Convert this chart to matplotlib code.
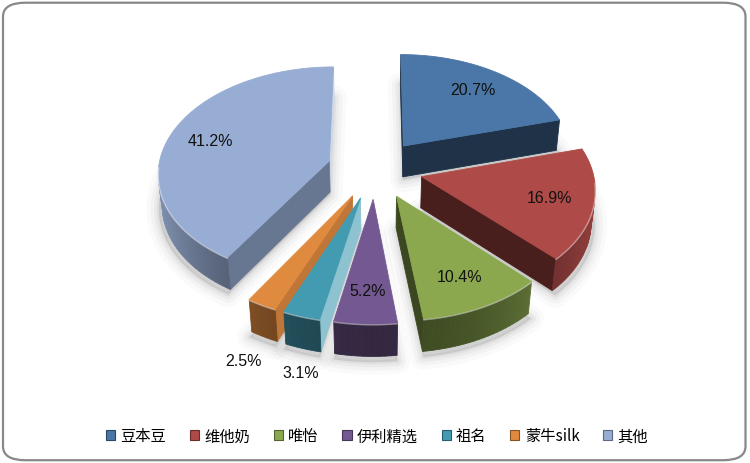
import numpy as np
import matplotlib
matplotlib.use('Agg')
import matplotlib.pyplot as plt
from matplotlib.patches import Polygon, FancyBboxPatch, Patch
from matplotlib.colors import to_rgb

# ---- data ----
brands = ['豆本豆', '维他奶', '唯怡', '伊利精选', '祖名', '蒙牛silk', '其他']
shares = [20.7, 16.9, 10.4, 5.2, 3.1, 2.5, 41.2]
colors = ['#4A76A8', '#AE4A47', '#8BA84F', '#735891', '#439BB2', '#E08A40', '#98ADD3']
outside = [False, False, False, False, True, True, False]

plt.rcParams['font.family'] = ['Noto Sans CJK SC', 'DejaVu Sans']

fig = plt.figure(figsize=(7.5, 4.64), dpi=100)
ax = fig.add_axes([0, 0, 1, 1])
ax.set_xlim(0, 750)
ax.set_ylim(464, 0)
ax.axis('off')

# border
fig.patches.append(FancyBboxPatch((0.004, 0.006), 0.99, 0.986,
                                  boxstyle="round,pad=0,rounding_size=0.03",
                                  transform=fig.transFigure, fc='white',
                                  ec='#888888', lw=1.6, zorder=-10))

# ---- 3D projection parameters ----
CX, CY, S = 375, 170, 171
D = 7.7
phi = np.radians(38)
H = 0.235
EXP = 0.28
cam = np.array([0.0, -D * np.cos(phi), D * np.sin(phi)])


def proj(X, Y, Z):
    X = np.asarray(X, float); Y = np.asarray(Y, float); Z = np.asarray(Z, float)
    w = D + Y * np.cos(phi) - Z * np.sin(phi)
    v = Y * np.sin(phi) + Z * np.cos(phi)
    return CX + S * X * D / w, CY - S * v * D / w


def depth(X, Y, Z):
    return D + Y * np.cos(phi) - Z * np.sin(phi)


def shade(c, f):
    c = np.array(to_rgb(c))
    if f <= 1:
        return tuple(c * f)
    m = min((f - 1) * 10, 0.55)
    return tuple(c + (1 - c) * m)


def visible(n, p):
    return np.dot(n, cam - p) > 0


total = sum(shares)
fracs = np.cumsum([0] + shares) / total
wedges = []
for i, val in enumerate(shares):
    t1 = 2 * np.pi * fracs[i]
    t2 = 2 * np.pi * fracs[i + 1]
    tm = 0.5 * (t1 + t2)
    ox, oy = EXP * np.sin(tm), EXP * np.cos(tm)
    n = max(4, int(np.degrees(t2 - t1) / 1.5))
    ts = np.linspace(t1, t2, n)
    key = depth(ox + 0.5 * np.sin(tm), oy + 0.5 * np.cos(tm), 0)
    wedges.append(dict(i=i, t1=t1, t2=t2, tm=tm, ox=ox, oy=oy, ts=ts, key=key))

# ---- soft shadow ----
for wd in wedges:
    ts = wd['ts']
    X = np.concatenate([[wd['ox']], wd['ox'] + 1.02 * np.sin(ts)])
    Y = np.concatenate([[wd['oy']], wd['oy'] + 1.02 * np.cos(ts)])
    px, py = proj(X, Y, np.full_like(X, -H))
    for lw, a in [(18, 0.035), (12, 0.05), (7, 0.07), (3, 0.09)]:
        ax.add_patch(Polygon(np.c_[px, py + 3], closed=True, fc=(0.5, 0.5, 0.5, a),
                             ec=(0.5, 0.5, 0.5, a), lw=lw, joinstyle='round', zorder=1))

# ---- draw wedges back to front ----
z = 2
for wd in sorted(wedges, key=lambda d: -d['key']):
    i = wd['i']; col = colors[i]
    ox, oy, ts = wd['ox'], wd['oy'], wd['ts']
    faces = []
    # radial faces
    for t, sgn in [(wd['t1'], -1), (wd['t2'], 1)]:
        nrm = np.array([sgn * np.cos(t), -sgn * np.sin(t), 0.0])
        pmid = np.array([ox + 0.5 * np.sin(t), oy + 0.5 * np.cos(t), -H / 2])
        if visible(nrm, pmid):
            X = [ox, ox + np.sin(t), ox + np.sin(t), ox]
            Y = [oy, oy + np.cos(t), oy + np.cos(t), oy]
            Z = [0, 0, -H, -H]
            px, py = proj(X, Y, Z)
            f = 0.42 + 0.7 * max(0.0, nrm[0]) ** 6
            faces.append((depth(pmid[0], pmid[1], pmid[2]), np.c_[px, py], shade(col, f)))
    # outer curved side
    for a, b in zip(ts[:-1], ts[1:]):
        t = 0.5 * (a + b)
        nrm = np.array([np.sin(t), np.cos(t), 0.0])
        pmid = np.array([ox + np.sin(t), oy + np.cos(t), -H / 2])
        if visible(nrm, pmid):
            X = [ox + np.sin(a), ox + np.sin(b), ox + np.sin(b), ox + np.sin(a)]
            Y = [oy + np.cos(a), oy + np.cos(b), oy + np.cos(b), oy + np.cos(a)]
            Z = [0, 0, -H, -H]
            px, py = proj(X, Y, Z)
            f = 0.45 + 0.42 * abs(np.sin(t)) ** 2
            faces.append((depth(*pmid), np.c_[px, py], shade(col, f)))
    for _, poly, c in sorted(faces, key=lambda f: -f[0]):
        ax.add_patch(Polygon(poly, closed=True, fc=c, ec=c, lw=0.6, zorder=z))
    # top face
    X = np.concatenate([[ox], ox + np.sin(ts)])
    Y = np.concatenate([[oy], oy + np.cos(ts)])
    px, py = proj(X, Y, np.zeros_like(X))
    ax.add_patch(Polygon(np.c_[px, py], closed=True, fc=col, ec=col, lw=0.6, zorder=z))
    # rim highlight on front part
    front = np.cos(ts) < -0.05
    if front.sum() > 1:
        hx, hy = proj(ox + np.sin(ts[front]), oy + np.cos(ts[front]), np.zeros(front.sum()))
        ax.plot(hx, hy + 0.8, color='white', alpha=0.45, lw=1.0, zorder=z, solid_capstyle='round')
    z += 1

# ---- data labels ----
for wd in wedges:
    i = wd['i']; tm = wd['tm']
    txt = f'{shares[i]:.1f}%'
    if outside[i]:
        lx, ly = proj(wd['ox'] + np.sin(tm), wd['oy'] + np.cos(tm), -H)
        lx = lx + 110 * (np.sin(tm) + 0.27)
        ly = ly + 24
    else:
        lx, ly = proj(wd['ox'] + 0.75 * np.sin(tm), wd['oy'] + 0.75 * np.cos(tm), 0)
    ax.text(lx, ly, txt, ha='center', va='center', fontsize=11.5,
            family=['Liberation Sans', 'DejaVu Sans'], color='#111111', zorder=50)

# ---- legend ----
handles = [Patch(facecolor=c, edgecolor=shade(c, 0.6), lw=0.8) for c in colors]
ax.legend(handles, brands, loc='center', bbox_to_anchor=(377 / 750, 1 - 437 / 464),
          ncol=7, frameon=False, fontsize=11, handlelength=0.6, handleheight=0.6,
          handletextpad=0.35, columnspacing=1.55, borderaxespad=0)

fig.savefig('out.png', dpi=100)
